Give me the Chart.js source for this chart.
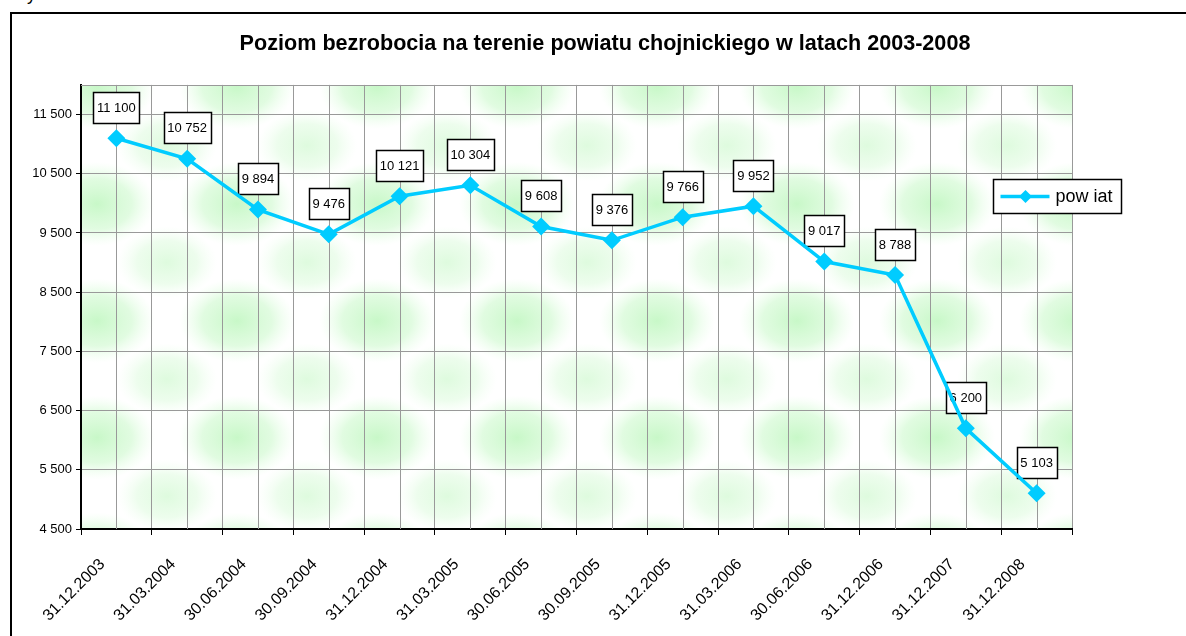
<!DOCTYPE html>
<html>
<head>
<meta charset="utf-8">
<script src="https://cdn.jsdelivr.net/npm/chart.js@4/dist/chart.umd.min.js"></script>
<style>
  html, body { margin: 0; padding: 0; background: #fff; overflow: hidden; }
  #wrap { position: relative; width: 1186px; height: 636px; }
  #frame { position: absolute; left: 10px; top: 12px; width: 1300px; height: 800px; border: 2px solid #000; }
  #frag { position: absolute; left: 27px; top: -15px; font: 18px "Liberation Sans", Arial, sans-serif; line-height: 18px; }
  canvas { position: absolute; left: 0; top: 0; }
</style>
</head>
<body>
<div id="wrap">
  <div id="frag">y</div>
  <div id="frame"></div>
  <canvas id="chart" width="1186" height="636"></canvas>
</div>
<script>
// Data
const titleText = "Poziom bezrobocia na terenie powiatu chojnickiego w latach 2003-2008";
const seriesName = "pow iat";
const categories = [
  "31.12.2003", "31.03.2004", "30.06.2004", "30.09.2004", "31.12.2004",
  "31.03.2005", "30.06.2005", "30.09.2005", "31.12.2005", "31.03.2006",
  "30.06.2006", "31.12.2006", "31.12.2007", "31.12.2008"
];
const values = [11100, 10752, 9894, 9476, 10121, 10304, 9608, 9376, 9766, 9952, 9017, 8788, 6200, 5103];
const yTicks = [4500, 5500, 6500, 7500, 8500, 9500, 10500, 11500];
const yMin = 4500;
const yMax = 12000;

const FONT = '"Liberation Sans", Arial, sans-serif';
const LINE_COLOR = "#00CCFF";
const GRID_COLOR = "#999999";

function fmt(v) {
  return String(v).replace(/\B(?=(\d{3})+(?!\d))/g, " ");
}

// green texture behind the plot
const bgPlugin = {
  id: "bg",
  beforeDraw(chart) {
    const { ctx, chartArea: a } = chart;
    ctx.save();
    ctx.beginPath();
    ctx.rect(a.left, a.top, a.right - a.left, a.bottom - a.top);
    ctx.clip();
    ctx.fillStyle = "#fff";
    ctx.fillRect(a.left, a.top, a.right - a.left, a.bottom - a.top);
    const stepX = 140, stepY = (a.bottom - a.top) / 3.8;
    function blob(cx, cy, rx, ry, alpha) {
      ctx.save();
      ctx.translate(cx, cy);
      ctx.scale(rx / ry, 1);
      const g = ctx.createRadialGradient(0, 0, 0, 0, 0, ry);
      g.addColorStop(0, "rgba(200,248,200," + alpha + ")");
      g.addColorStop(0.6, "rgba(212,250,212," + alpha * 0.7 + ")");
      g.addColorStop(1, "rgba(230,255,230,0)");
      ctx.fillStyle = g;
      ctx.fillRect(-ry * 2, -ry * 2, ry * 4, ry * 4);
      ctx.restore();
    }
    for (let j = -1; j < 5; j++) {
      const cy = a.top + 119 + j * stepY;
      for (let i = -1; i < 9; i++) {
        blob(a.left + 16 + i * stepX, cy, 58, 42, 1);
        blob(a.left + 86 + i * stepX, cy + stepY / 2, 50, 36, 0.6);
      }
    }
    ctx.restore();
  }
};

// vertical lines through each category and the top border
const midLines = {
  id: "midLines",
  beforeDatasetsDraw(chart) {
    const { ctx, chartArea: a, scales } = chart;
    ctx.save();
    ctx.strokeStyle = GRID_COLOR;
    ctx.lineWidth = 1;
    ctx.beginPath();
    categories.forEach((c, i) => {
      const x = Math.round(scales.x.getPixelForValue(i)) + 0.5;
      ctx.moveTo(x, a.top);
      ctx.lineTo(x, a.bottom);
    });
    const yt = Math.round(scales.y.getPixelForValue(yMax)) + 0.5;
    ctx.moveTo(a.left, yt);
    ctx.lineTo(a.right, yt);
    ctx.stroke();
    ctx.restore();
  }
};

// boxed value labels above each point
const labelsPlugin = {
  id: "valueLabels",
  beforeDatasetsDraw(chart) {
    const { ctx } = chart;
    const meta = chart.getDatasetMeta(0);
    ctx.save();
    ctx.font = "13px " + FONT;
    ctx.textAlign = "center";
    ctx.textBaseline = "middle";
    meta.data.forEach((p, i) => {
      const txt = fmt(values[i]);
      const w = Math.round(ctx.measureText(txt).width) + 7;
      const h = 31;
      const cx = p.x, cy = p.y - 31;
      const bx = Math.round(cx - w / 2) + 0.5, by = Math.round(cy - h / 2) + 0.5;
      ctx.fillStyle = "#fff";
      ctx.fillRect(bx, by, w, h);
      ctx.strokeStyle = "#000";
      ctx.lineWidth = 1.5;
      ctx.strokeRect(bx, by, w, h);
      ctx.fillStyle = "#000";
      ctx.fillText(txt, cx, cy + 1);
    });
    ctx.restore();
  }
};

// legend box sitting over the right edge of the plot
const legendPlugin = {
  id: "boxLegend",
  afterDraw(chart) {
    const { ctx } = chart;
    const ds = chart.data.datasets[0];
    const x = 993.5, y = 179.5, w = 128, h = 34;
    ctx.save();
    ctx.fillStyle = "#fff";
    ctx.fillRect(x, y, w, h);
    ctx.strokeStyle = "#000";
    ctx.lineWidth = 1.5;
    ctx.strokeRect(x, y, w, h);
    const ly = y + 17;
    ctx.strokeStyle = ds.borderColor;
    ctx.lineWidth = 3.5;
    ctx.beginPath();
    ctx.moveTo(x + 7, ly);
    ctx.lineTo(x + 56, ly);
    ctx.stroke();
    ctx.fillStyle = ds.borderColor;
    ctx.beginPath();
    ctx.moveTo(x + 32, ly - 6.5);
    ctx.lineTo(x + 38.5, ly);
    ctx.lineTo(x + 32, ly + 6.5);
    ctx.lineTo(x + 25.5, ly);
    ctx.closePath();
    ctx.fill();
    ctx.fillStyle = "#000";
    ctx.font = "18px " + FONT;
    ctx.textBaseline = "middle";
    ctx.fillText(ds.label, x + 62, ly + 1);
    ctx.restore();
  }
};

const ctx = document.getElementById("chart").getContext("2d");

new Chart(ctx, {
  type: "line",
  data: {
    labels: categories,
    datasets: [{
      label: seriesName,
      data: values,
      borderColor: LINE_COLOR,
      backgroundColor: LINE_COLOR,
      borderWidth: 3.5,
      pointStyle: "rectRot",
      pointRadius: 9,
      pointHoverRadius: 9,
      pointBorderWidth: 0,
      tension: 0,
      fill: false
    }]
  },
  options: {
    responsive: false,
    animation: false,
    events: [],
    layout: { padding: { left: 24, right: 0, top: 0, bottom: 0 } },
    plugins: {
      legend: { display: false },
      tooltip: { enabled: false },
      title: {
        display: true,
        text: titleText,
        color: "#000",
        font: { family: FONT, size: 21.6, weight: "bold" },
        padding: { top: 31, bottom: 28 }
      }
    },
    scales: {
      x: {
        offset: true,
        grid: { offset: true, color: GRID_COLOR, lineWidth: 1, tickLength: 6, tickColor: "#000" },
        border: { color: "#000", width: 2 },
        ticks: {
          color: "#000",
          font: { family: FONT, size: 16 },
          minRotation: 45,
          maxRotation: 45,
          autoSkip: false,
          padding: 20,
          labelOffset: -14
        },
        afterFit: (s) => { s.height = 107; }
      },
      y: {
        min: yMin,
        max: yMax,
        afterBuildTicks: (s) => { s.ticks = yTicks.map((v) => ({ value: v })); },
        grid: { color: GRID_COLOR, lineWidth: 1, tickLength: 5, tickColor: "#000" },
        border: { color: "#000", width: 2 },
        ticks: {
          color: "#000",
          font: { family: FONT, size: 13 },
          padding: 4,
          callback: (v) => fmt(v)
        },
        afterFit: (s) => { s.width = 57; }
      },
      y2: {
        position: "right",
        grid: { drawOnChartArea: false, drawTicks: false },
        border: { display: false },
        ticks: { display: false },
        afterFit: (s) => { s.width = 114; }
      }
    }
  },
  plugins: [bgPlugin, midLines, labelsPlugin, legendPlugin]
});
</script>
</body>
</html>
